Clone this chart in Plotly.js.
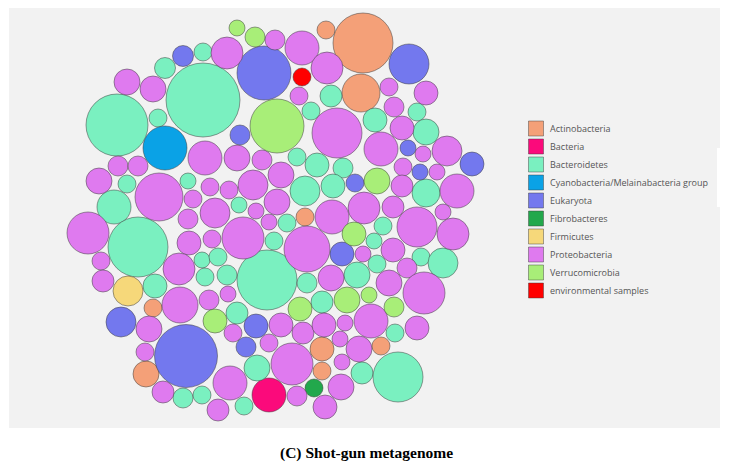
<!DOCTYPE html>
<html>
<head>
<meta charset="utf-8">
<script src="https://cdn.plot.ly/plotly-3.0.1.min.js"></script>
<style>html,body{margin:0;padding:0;background:#fff;}#chart{width:731px;height:471px;}</style>
</head>
<body>
<div id="chart"></div>
<script>
// Categories and colours
const categories = ["Actinobacteria","Bacteria","Bacteroidetes","Cyanobacteria/Melainabacteria group","Eukaryota","Fibrobacteres","Firmicutes","Proteobacteria","Verrucomicrobia","environmental samples"];
const colors = ["#f4a078","#fb0a7b","#7af0c0","#0aa2e6","#7378ee","#22a84c","#f6d87a","#df7aef","#a8ee78","#ff0000"];

// Bubble data (position in the packed layout, radius, category index)
const bubbleX = [183,203,165,127,153,203,117,158,165,205,118,138,227,255,275,302,326,363,264,302,327,409,361,299,331,311,277,240,337,237,262,297,317,281,343,389,426,394,417,375,402,426,381,408,423,447,472,403,420,437,355,377,402,426,457,364,393,443,417,383,354,453,374,342,363,393,421,443,377,407,357,389,424,347,369,394,371,345,417,395,359,381,340,342,362,398,341,99,127,114,159,188,193,188,88,138,189,101,179,202,103,128,155,205,305,333,210,229,253,215,239,256,277,305,332,269,287,243,212,274,307,218,267,227,307,331,228,209,300,322,215,237,256,281,303,324,233,246,269,292,322,322,257,230,269,297,314,325,218,244,153,180,121,149,186,145,146,163,183,202,237];
const bubbleY = [56,52,68,82,89,100,125,118,148,158,166,166,53,37,40,48,30,43,73,77,68,64,93,96,96,111,126,135,133,158,160,157,165,175,168,87,93,107,112,120,128,132,149,148,154,151,164,167,172,172,183,181,186,193,191,208,207,212,227,226,234,234,241,254,254,250,257,263,264,268,275,283,293,300,295,307,321,323,328,333,349,346,339,362,373,377,387,181,184,207,197,181,199,219,233,247,243,261,269,260,281,291,286,277,191,186,187,190,185,213,205,211,202,217,217,222,223,238,239,241,249,257,280,275,283,278,294,300,309,302,321,313,326,325,333,325,333,347,343,364,349,371,368,383,395,396,388,407,410,406,308,305,322,329,356,352,374,392,398,395,28];
const bubbleR = [10.5,9,10.5,13,13,37,31,9,22,17,10,10,16,10,10,17,9,30,27,9,16,20,19,9,11,9,27,10,25,13,10,9,12,13,10,9,12,10,9,12,12,13,17,8,8,15,12,9,8,8,9,13,11,14,17,16,11,8,20,9,12,16,8,12,8,12,9,15,9,10,13,13,21,13,8,10,17,8,12,9,13,9,8,8,11,25,13,13,9,17,24,8,9,10,21,30,12,9,16,8,11,15,12,9,15,12,9,9,15,15,8,8,13,9,17,8,9,21,9,9,23,9,30,10,10,13,8,10,12,11,12,11,12,12,11,12,9,10,9,21,12,9,13,17,17,10,9,12,11,9,9,18,15,13,31.5,9,13,11,10,9,8];
const bubbleGroup = [4,2,2,7,7,2,2,2,3,7,7,7,7,8,7,7,0,0,4,9,7,4,0,7,2,2,8,4,7,7,7,2,2,7,2,7,7,7,2,2,7,2,7,4,7,7,4,7,4,7,4,8,7,2,7,7,7,7,7,2,8,7,2,4,7,7,2,2,2,7,2,7,7,8,8,8,7,7,7,2,7,0,7,7,2,2,7,7,2,2,7,2,7,7,7,2,7,7,7,2,7,6,2,2,2,2,7,7,7,7,2,7,7,0,7,7,2,7,7,2,7,2,2,2,2,7,7,7,8,2,8,2,4,7,7,7,7,4,7,7,0,0,2,7,1,7,5,7,7,2,0,7,4,7,4,7,0,7,2,2,8];

const traces = [];
categories.forEach((cat, g) => {
  const xs = [], ys = [], ss = [];
  bubbleX.forEach((x, i) => {
    if (bubbleGroup[i] === g) { xs.push(x); ys.push(bubbleY[i]); ss.push(bubbleR[i] * 2); }
  });
  traces.push({
    type: "scatter", mode: "markers", name: cat, x: xs, y: ys, showlegend: false,
    marker: { size: ss, sizemode: "diameter", color: colors[g], opacity: 1,
              line: { color: "rgba(60,60,60,0.5)", width: 1 } },
    hoverinfo: "skip"
  });
});

// legend squares
const legendX = categories.map(() => 536);
const legendY = categories.map((c, i) => 128.5 + i * 18);
traces.push({
  type: "scatter", mode: "markers", x: legendX, y: legendY, showlegend: false, hoverinfo: "skip",
  marker: { symbol: "square", size: 15, color: colors, line: { color: "rgba(60,60,60,0.45)", width: 1 } }
});

const annotations = categories.map((c, i) => ({
  x: 548, y: legendY[i], xref: "x", yref: "y", text: c, showarrow: false,
  xanchor: "left", yanchor: "middle", font: { family: "Open Sans", size: 9, color: "#555" }
}));
annotations.push({
  x: 366, y: 453, xref: "x", yref: "y", text: "<b>(C) Shot-gun metagenome</b>", showarrow: false,
  xanchor: "center", yanchor: "middle", font: { family: "Liberation Serif", size: 15.5, color: "#000" }
});

const layout = {
  width: 731, height: 471,
  margin: { l: 0, r: 0, t: 0, b: 0 },
  paper_bgcolor: "#ffffff", plot_bgcolor: "#ffffff",
  xaxis: { range: [0, 731], visible: false, fixedrange: true },
  yaxis: { range: [471, 0], visible: false, fixedrange: true },
  showlegend: false,
  shapes: [
    { type: "rect", xref: "x", yref: "y", x0: 9, x1: 720, y0: 8, y1: 428, fillcolor: "#f2f2f2", line: { width: 0 }, layer: "below" },
    { type: "rect", xref: "x", yref: "y", x0: 717, x1: 731, y0: 148, y1: 207, fillcolor: "#ffffff", line: { width: 0 }, layer: "below" }
  ],
  annotations: annotations
};

Plotly.newPlot("chart", traces, layout, { staticPlot: true, displayModeBar: false });
</script>
</body>
</html>
